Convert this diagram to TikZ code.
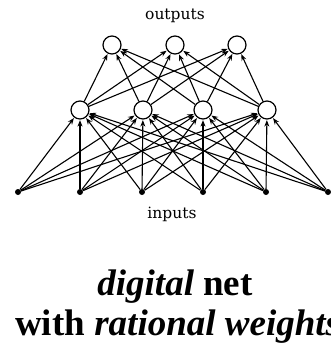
\documentclass[tikz,border=0pt]{standalone}
\usepackage{fontspec}
\setmainfont{Liberation Serif}
\newfontfamily\labelfont{DejaVu Serif}
\usetikzlibrary{arrows.meta}
\tikzset{
  unit/.style={
    circle,
    draw,
    fill=white,
    line width=1.2pt,
    minimum size=18pt,
    inner sep=0pt,
  },
  inp/.style={
    circle,
    fill,
    minimum size=6pt,
    inner sep=0pt,
  },
  wire/.style={
    -{Stealth[length=6.5pt, width=5pt]},
    line width=1.1pt,
    shorten >=0.5pt,
  },
  layerlabel/.style={
    font=\labelfont\fontsize{15.5}{17}\selectfont,
  },
  caption/.style={
    font=\bfseries\fontsize{37}{42}\selectfont,
    inner sep=0pt,
    anchor=base,
  },
}
\begin{document}
\begin{tikzpicture}[x=1pt, y=-1pt]
\useasboundingbox[fill=white] (0,0) rectangle (331,349);

% === output layer ===
\foreach \i/\x in {1/112, 2/175, 3/237}
  \node[unit] (out\i) at (\x,45) {};
\node[layerlabel] (outlabel) at (175,16) {outputs};

% === hidden layer ===
\foreach \j/\x in {1/80, 2/143, 3/203, 4/267}
  \node[unit] (hid\j) at (\x,110) {};

% === input layer ===
\foreach \k/\x in {1/18, 2/80, 3/142, 4/203, 5/266, 6/328}
  \node[inp] (in\k) at (\x,192) {};
\node[layerlabel] (inlabel) at (172,214) {inputs};

% connections
\foreach \k in {1,...,6}
  \foreach \j in {1,...,4}
    \draw[wire] (in\k) -- (hid\j);
\foreach \j in {1,...,4}
  \foreach \i in {1,...,3}
    \draw[wire] (hid\j) -- (out\i);

% caption
\node[caption] (title) at (175,295) {\textit{digital} net};
\node[caption, anchor=base west] (subtitle) at (15,335) {with \textit{rational weights}};

\end{tikzpicture}
\end{document}
